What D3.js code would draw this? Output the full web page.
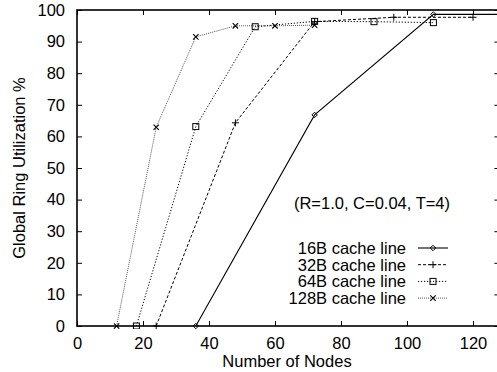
<!DOCTYPE html>
<html><head><meta charset="utf-8">
<script src="https://cdn.jsdelivr.net/npm/d3@7/dist/d3.min.js"></script>
<style>body{margin:0;background:#fff}svg{display:block}text{font-family:"Liberation Sans",Arial,sans-serif;fill:#000}</style>
</head><body><svg id="c" width="497" height="372"></svg>
<script>
const xTicks = [0,20,40,60,80,100,120];
const yTicks = [0,10,20,30,40,50,60,70,80,90,100];
const series16 = [[36,0],[72,66.8],[108,98.6],[144,98.6]];
const series32 = [[24,0],[48,64.3],[72,96.3],[96,97.7],[120,97.7]];
const series64 = [[18,0],[36,63.1],[54,94.7],[72,96.4],[90,96.3],[108,96.0]];
const series128 = [[12,0],[24,62.9],[36,91.5],[48,95.0],[60,95.0],[72,95.2]];
const labels = ["16B cache line","32B cache line","64B cache line","128B cache line"];
const annotation = "(R=1.0, C=0.04, T=4)";

const FS = "16.5px";
const svg = d3.select("#c");
const L=77, R=499.4, T=10, B=326;
const x = d3.scaleLinear().domain([0,128]).range([L,R]);
const y = d3.scaleLinear().domain([0,100]).range([B,T]);

svg.append("defs").append("clipPath").attr("id","clip").append("rect")
  .attr("x",L).attr("y",T-3).attr("width",R-L).attr("height",B-T+6);

const tl = 5;
const gx = svg.append("g").attr("transform",`translate(0,${B})`)
  .call(d3.axisBottom(x).tickValues(xTicks).tickSize(-tl).tickPadding(11));
const gxt = svg.append("g").attr("transform",`translate(0,${T})`)
  .call(d3.axisTop(x).tickValues(xTicks).tickSize(-tl).tickFormat(""));
const gy = svg.append("g").attr("transform",`translate(${L},0)`)
  .call(d3.axisLeft(y).tickValues(yTicks).tickSize(-tl).tickPadding(12));
const gyr = svg.append("g").attr("transform",`translate(${R},0)`)
  .call(d3.axisRight(y).tickValues(yTicks).tickSize(-tl).tickFormat(""));
[gx,gxt,gy,gyr].forEach(g=>{
  g.select(".domain").remove();
  g.selectAll(".tick line").attr("stroke","#000").attr("stroke-width",1);
  g.selectAll("text").style("font-size",FS).attr("fill","#000");
});
gx.selectAll("text").attr("dy","0.71em");

const styles = [
  {data:series16, color:"#000", dash:null, w:1.1, m:"diamond"},
  {data:series32, color:"#000", dash:"3,2", w:1, m:"plus"},
  {data:series64, color:"#000", dash:"1.2,1.8", w:1, m:"square"},
  {data:series128, color:"#555", dash:"1,1", w:1, m:"cross"}
];
const line = d3.line().x(d=>x(d[0])).y(d=>y(d[1]));
const plot = svg.append("g").attr("clip-path","url(#clip)");

function marker(g, type, cx, cy){
  if(type==="diamond"){
    g.append("path").attr("d",`M${cx},${cy-2.7}L${cx+2.7},${cy}L${cx},${cy+2.7}L${cx-2.7},${cy}Z`)
     .attr("fill","none").attr("stroke","#000").attr("stroke-width",1);
  } else if(type==="plus"){
    g.append("path").attr("d",`M${cx-3.5},${cy}H${cx+3.5}M${cx},${cy-3.5}V${cy+3.5}`)
     .attr("stroke","#000").attr("stroke-width",1);
  } else if(type==="square"){
    g.append("rect").attr("x",cx-3).attr("y",cy-3).attr("width",6).attr("height",6)
     .attr("fill","none").attr("stroke","#000").attr("stroke-width",1);
  } else {
    g.append("path").attr("d",`M${cx-2.7},${cy-2.7}L${cx+2.7},${cy+2.7}M${cx-2.7},${cy+2.7}L${cx+2.7},${cy-2.7}`)
     .attr("stroke","#000").attr("stroke-width",1.1);
  }
}

styles.slice().reverse().forEach(s=>{
  plot.append("path").datum(s.data).attr("d",line).attr("fill","none")
    .attr("stroke",s.color).attr("stroke-width",s.w)
    .attr("stroke-dasharray",s.dash);
  s.data.filter(d=>d[0]<=128).forEach(d=>marker(plot,s.m,x(d[0]),y(d[1])));
});

svg.append("rect").attr("x",L).attr("y",T).attr("width",R-L).attr("height",B-T)
  .attr("fill","none").attr("stroke","#000").attr("stroke-width",1.6);

svg.append("text").attr("x",287).attr("y",367).attr("text-anchor","middle")
  .style("font-size",FS).text("Number of Nodes");
svg.append("text").attr("transform","translate(25,168) rotate(-90)").attr("text-anchor","middle")
  .style("font-size",FS).text("Global Ring Utilization %");

svg.append("text").attr("x",372).attr("y",209).attr("text-anchor","middle")
  .style("font-size",FS).text(annotation);

const ly0 = 248, ldy = 16.7;
styles.forEach((s,i)=>{
  const yy = ly0 + i*ldy;
  svg.append("text").attr("x",406).attr("y",yy).attr("dy","0.36em").attr("text-anchor","end")
    .style("font-size",FS).text(labels[i]);
  svg.append("line").attr("x1",418).attr("x2",448).attr("y1",yy).attr("y2",yy)
    .attr("stroke",s.color).attr("stroke-width",s.w).attr("stroke-dasharray",s.dash);
  marker(svg,s.m,433,yy);
});
</script></body></html>
